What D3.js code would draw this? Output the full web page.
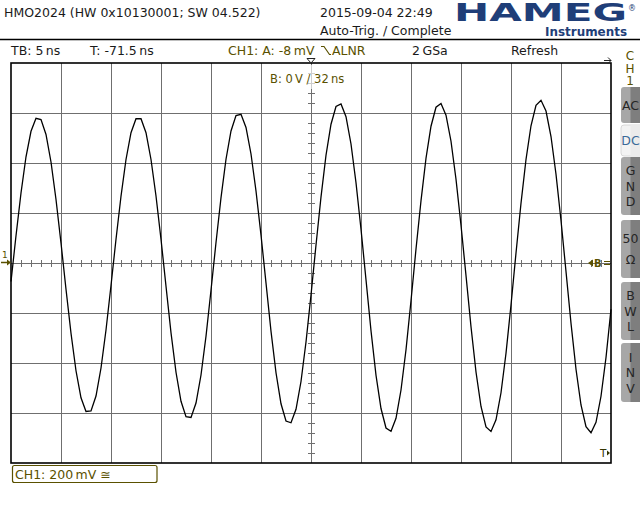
<!DOCTYPE html>
<html><head><meta charset="utf-8">
<script src="https://cdn.jsdelivr.net/npm/d3@7"></script>
<style>
html,body{margin:0;padding:0;background:#fff;}
svg{display:block;font-family:"DejaVu Sans",sans-serif;}
</style></head>
<body><svg id="c" width="640" height="520"></svg>
<script>
// ---- data ----
const sampleIntervalNs = 0.5;            // 2 GSa/s
const timeDivsNs = [0,5,10,15,20,25,30,35,40,45,50,55,60];
const voltDivsMv = [-800,-600,-400,-200,0,200,400,600,800];
const traceMv = [-74,109,280,425,527,579,574,514,404,254,
  80,-105,-281,-431,-539,-594,-592,-532,-420,-268,
  -90,95,267,414,521,577,577,521,414,268,
  95,-93,-279,-437,-553,-615,-618,-560,-448,-293,
  -109,82,261,415,528,590,595,542,436,288,
  112,-80,-273,-439,-563,-632,-639,-585,-474,-316,
  -128,72,264,431,555,626,636,585,476,321,
  135,-67,-271,-449,-582,-660,-673,-621,-508,-347,
  -151,56,249,419,547,623,638,591,487,335,
  151,-50,-255,-436,-574,-656,-674,-627,-519,-361,
  -168,40,239,414,549,631,651,608,506,355,
  170,-34,-241,-425,-568,-655,-679,-637,-533,-378,
  -185];
const headerTexts = ["HMO2024 (HW 0x10130001; SW 04.522)","2015-09-04 22:49","Auto-Trig. / Complete"];
const statusTexts = ["TB: 5\u2009ns","T: -71.5\u2009ns","CH1: A: -8\u2009mV","ALNR","2\u2009GSa","Refresh"];
const buttonLabels = [["AC"],["DC"],["G","N","D"],["50","\u03A9"],["B","W","L"],["I","N","V"]];

// ---- drawing ----
const svg = d3.select("#c");
const L=11,R=611,T=63,B=463;
const x = d3.scaleLinear().domain([0,60]).range([L,R]);
const y = d3.scaleLinear().domain([-800,800]).range([B,T]);
const olive="#5a5100", grid="#6f6f6f", ink="#1a1a1a";

// grid via axes
const gx = svg.append("g").attr("transform",`translate(0,${B})`)
  .call(d3.axisBottom(x).tickValues(timeDivsNs.slice(1,-1)).tickSize(-(B-T)).tickFormat(""));
const gy = svg.append("g").attr("transform",`translate(${L},0)`)
  .call(d3.axisLeft(y).tickValues(voltDivsMv.slice(1,-1)).tickSize(-(R-L)).tickFormat(""));
[gx,gy].forEach(g=>{g.select(".domain").remove();
  g.selectAll(".tick line").attr("stroke",grid).attr("stroke-width",1).attr("shape-rendering","crispEdges");});

// minor ticks on centre axes
const minorT = d3.range(1,60).filter(t=>t%5!==0);
svg.append("g").selectAll("line").data(minorT).join("line")
  .attr("x1",d=>Math.round(x(d))+0.5).attr("x2",d=>Math.round(x(d))+0.5)
  .attr("y1",y(0)-3).attr("y2",y(0)+4).attr("stroke",grid).attr("shape-rendering","crispEdges");
const minorV = d3.range(-760,800,40).filter(v=>v%200!==0);
svg.append("g").selectAll("line").data(minorV).join("line")
  .attr("y1",d=>Math.round(y(d))+0.5).attr("y2",d=>Math.round(y(d))+0.5)
  .attr("x1",x(30)-3).attr("x2",x(30)+4).attr("stroke",grid).attr("shape-rendering","crispEdges");

// B: label overlay
svg.append("rect").attr("x",264).attr("y",65).attr("width",94).attr("height",24).attr("fill","#fff").attr("opacity",0.65);
svg.append("text").attr("x",270).attr("y",83).attr("font-size",11.5).attr("fill",olive).text("B: 0\u2009V / 32\u2009ns");

// frame
svg.append("rect").attr("x",L).attr("y",T).attr("width",R-L).attr("height",B-T)
  .attr("fill","none").attr("stroke","#000").attr("stroke-width",1.6);

// trace
const line = d3.line().x((d,i)=>x(i*sampleIntervalNs)).y(d=>y(d));
svg.append("path").datum(traceMv).attr("d",line).attr("fill","none")
  .attr("stroke","#000").attr("stroke-width",1.3).attr("stroke-linejoin","miter");

// header
svg.append("text").attr("x",4).attr("y",17).attr("font-size",12.5).attr("fill",ink).text(headerTexts[0]);
svg.append("text").attr("x",320).attr("y",17).attr("font-size",12.5).attr("fill",ink).text(headerTexts[1]);
svg.append("text").attr("x",320).attr("y",35).attr("font-size",12.5).attr("fill",ink).text(headerTexts[2]);
svg.append("line").attr("x1",0).attr("x2",640).attr("y1",39.5).attr("y2",39.5).attr("stroke","#000").attr("stroke-width",1.6);

// logo
const blue="#1f3e78";
svg.append("text").attr("x",454).attr("y",21).attr("font-size",24).attr("font-weight","bold")
  .attr("fill",blue).attr("textLength",173).attr("lengthAdjust","spacingAndGlyphs").text("HAMEG");
svg.append("text").attr("x",628).attr("y",11).attr("font-size",8).attr("fill",blue).text("\u00AE");
svg.append("text").attr("x",545).attr("y",35.5).attr("font-size",11.5).attr("font-weight","bold")
  .attr("fill",blue).attr("textLength",82).attr("lengthAdjust","spacingAndGlyphs").text("Instruments");

// status row
svg.append("text").attr("x",11).attr("y",55).attr("font-size",12.5).attr("fill",ink).text(statusTexts[0]);
svg.append("text").attr("x",90).attr("y",55).attr("font-size",12.5).attr("fill",ink).text(statusTexts[1]);
svg.append("text").attr("x",228).attr("y",55).attr("font-size",12.5).attr("fill",olive).text(statusTexts[2]);
svg.append("path").attr("d","M321,46.5H324L329.5,54.5H331").attr("fill","none").attr("stroke",olive).attr("stroke-width",1.2);
svg.append("text").attr("x",332).attr("y",55).attr("font-size",12.5).attr("fill",olive).text(statusTexts[3]);
svg.append("text").attr("x",412).attr("y",55).attr("font-size",12.5).attr("fill",ink).text(statusTexts[4]);
svg.append("text").attr("x",511).attr("y",55).attr("font-size",12.5).attr("fill",ink).text(statusTexts[5]);

// CH1 vertical label
["C","H","1"].forEach((c,i)=>svg.append("text").attr("x",630).attr("y",60+i*12.5).attr("text-anchor","middle")
  .attr("font-size",12).attr("fill",olive).text(c));

// buttons
const btnBoxes=[[87,123],[125,156],[157,215],[220,278],[282,340],[343,402]];
buttonLabels.forEach((lab,i)=>{
  const [y0,y1]=btnBoxes[i]; const active = i===1;
  const g=svg.append("g");
  g.append("rect").attr("x",621).attr("y",y0).attr("width",30).attr("height",y1-y0).attr("rx",3)
    .attr("fill",active?"#f3f3f3":"#a7a7a7").attr("stroke",active?"#d8d8d8":"none");
  g.append("rect").attr("x",630.5).attr("y",y0).attr("width",10).attr("height",y1-y0)
    .attr("fill",active?"#ebebeb":"#7e7e7e");
  const n=lab.length, step= n===3?15.5:(n===2?21:0);
  const mid=(y0+y1)/2, top=mid-(n-1)*step/2;
  lab.forEach((s,j)=>g.append("text").attr("x",630.5).attr("y",top+j*step+4.5).attr("text-anchor","middle")
    .attr("font-size",12.5).attr("fill",active?"#3a6a98":"#262626").text(s));
});

// trigger / position markers
svg.append("text").attr("x",2).attr("y",258).attr("font-size",9).attr("fill",olive).text("1");
svg.append("path").attr("d","M1,262.5H8").attr("stroke",olive).attr("stroke-width",1.5);
svg.append("path").attr("d","M7,259.5L11,262.5L7,265.5Z").attr("fill",olive);
svg.append("path").attr("d","M588,263L593,259.5V266.5Z").attr("fill",olive);
svg.append("text").attr("x",594).attr("y",267).attr("font-size",10).attr("font-weight","bold").attr("fill",olive).text("B");
svg.append("path").attr("d","M604,261.5H610M604,264.5H610").attr("stroke",olive).attr("stroke-width",1);
svg.append("path").attr("d","M307,58.5H315L311,63Z").attr("fill","#fff").attr("stroke","#222").attr("stroke-width",1);
svg.append("path").attr("d","M604,60.5H611M608,57.5L611,60.5L608,63.5").attr("fill","none").attr("stroke","#222").attr("stroke-width",1);
svg.append("text").attr("x",600).attr("y",457).attr("font-size",10.5).attr("fill","#333300").text("T");
svg.append("path").attr("d","M607,450.5L610,453L607,455.5Z").attr("fill","#333300");

// bottom channel box
svg.append("rect").attr("x",12.5).attr("y",465.5).attr("width",144.5).attr("height",17).attr("rx",2)
  .attr("fill","none").attr("stroke",olive).attr("stroke-width",1.2);
svg.append("text").attr("x",15).attr("y",479).attr("font-size",12.5).attr("fill",olive).text("CH1: 200\u2009mV \u2245");
</script></body></html>
